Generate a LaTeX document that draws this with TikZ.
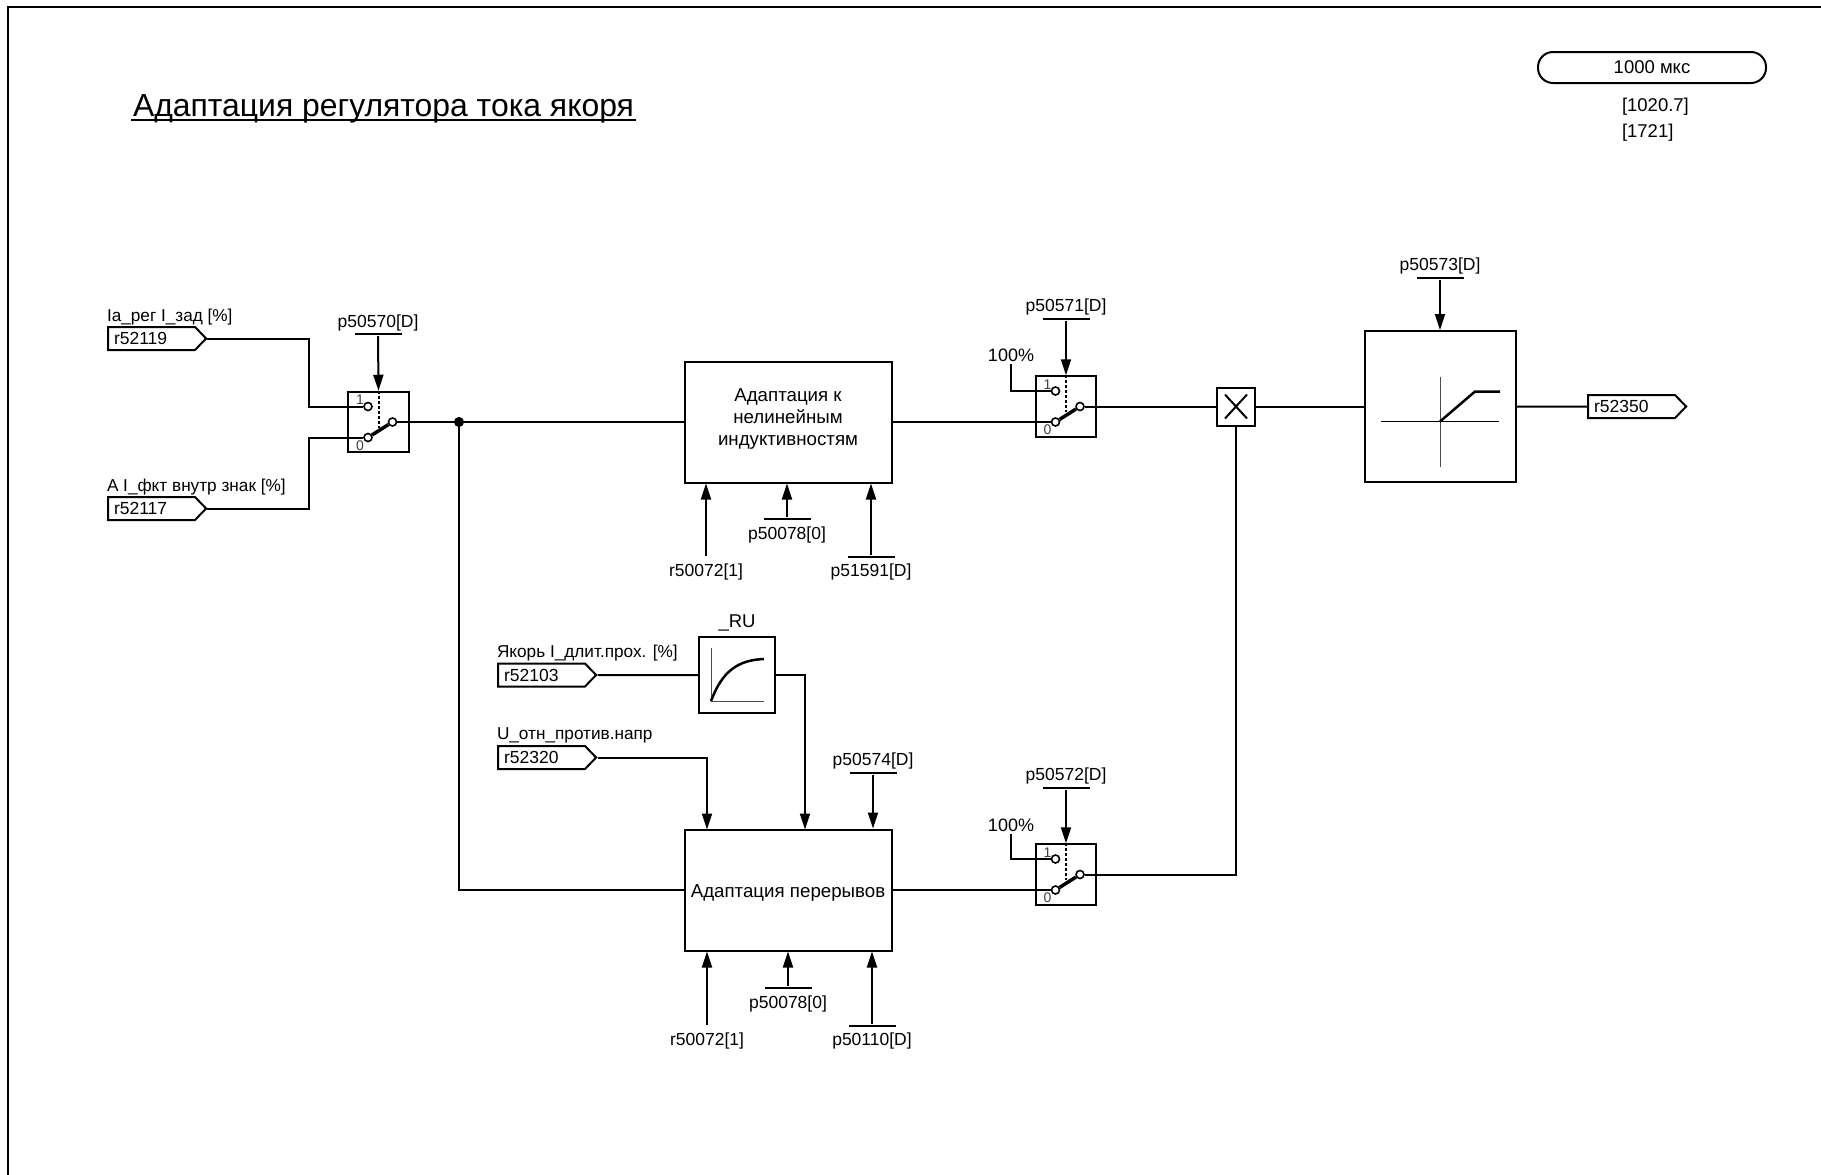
\documentclass[tikz,border=0pt]{standalone}
\usepackage{fontspec}
\setmainfont{Liberation Sans}
\usetikzlibrary{arrows.meta,shapes.symbols}
\newcommand{\switchnode}[3]{%
  \node[swbox] (#1) at (#2,#3) {};
  \node[contact] (#1hi) at ([shift={(-10.5,-15.5)}]#1.center) {};
  \node[contact] (#1lo) at ([shift={(-10.5,15.5)}]#1.center) {};
  \node[contact] (#1out) at ([shift={(14,0)}]#1.center) {};
  \node[digit] (#1one) at ([shift={(-18.5,-22)}]#1.center) {1};
  \node[digit] (#1zero) at ([shift={(-18.5,23.5)}]#1.center) {0};
  \draw[line width=3.5pt] (#1lo) -- (#1out);
  \draw[densely dashed] (#1.north) -- ++(0,37);
}
\tikzset{
  every node/.style={font=\fontsize{17.5}{22}\selectfont, inner sep=1pt},
  block/.style={draw, minimum width=207pt, minimum height=121pt, align=center, font=\fontsize{18.7}{22}\selectfont},
  swbox/.style={draw, minimum size=60.5pt},
  contact/.style={draw, circle, fill=white, inner sep=0pt, minimum size=8pt, line width=1.6pt},
  digit/.style={font=\fontsize{14}{14}\selectfont, text=black!75},
  flag/.style={draw, signal, signal to=east, signal pointer angle=92, minimum height=23pt,
    text width=75pt, inner xsep=6pt, inner ysep=0pt, align=left},
  parbar/.style={fill=black, minimum width=47pt, minimum height=2pt, inner sep=0pt},
  wlabel/.style={anchor=west, font=\fontsize{17.2}{22}\selectfont},
  axis/.style={line width=1pt, black!70},
}
\begin{document}
\begin{tikzpicture}[x=1pt, y=-1pt, >={Triangle[length=16pt,width=10pt]}, line width=2pt]
\useasboundingbox (0,0) rectangle (1821,1175);
\draw (1821,7) -- (8,7) -- (8,1175);

\node[anchor=base west, font=\fontsize{31.9}{32}\selectfont] (title) at (131,116) {Адаптация регулятора тока якоря};
\draw ([yshift=-3.5pt]title.base west) -- ([yshift=-3.5pt]title.base east);
\node[draw, rounded corners=15pt, minimum width=228pt, minimum height=31pt, font=\fontsize{18.5}{18}\selectfont] (cycle) at (1652,67.5) {1000 мкс};
\node[wlabel, font=\fontsize{18.5}{18}\selectfont] (ref1) at (1620,107) {[1020.7]};
\node[wlabel, font=\fontsize{18.5}{18}\selectfont] (ref2) at (1620,133) {[1721]};

\node[wlabel] (ia) at (105,317) {Ia\_рег I\_зад [\%]};
\node[flag, anchor=west] (r119) at (107,338.5) {r52119};
\node[wlabel] (ai) at (105,487) {A I\_фкт внутр знак [\%]};
\node[flag, anchor=west] (r117) at (107,508.5) {r52117};

\switchnode{sw1}{378.5}{422}
\node (p70) at (378,322.5) {p50570[D]};
\node[parbar] (b70) at (378,334) {};
\draw[->] (b70) -- (sw1.north);
\draw (r119.east) -- ++(102,0) |- (sw1hi);
\draw (r117.east) -- ++(102,0) |- (sw1lo);

\node[draw, circle, fill=black, inner sep=0pt, minimum size=8pt] (jn) at (459,422) {};
\node[block, text depth=9pt] (blk1) at (788,422) {Адаптация к\\нелинейным\\индуктивностям};
\draw (sw1out) -- (blk1.west);

\node (r72a) at (706,572) {r50072[1]};
\node[parbar] (b78a) at (787,519) {};
\node (p78a) at (787,534.5) {p50078[0]};
\node[parbar] (b91) at (871,557) {};
\node (p91) at (871,572) {p51591[D]};
\draw[->] ([yshift=6pt]r72a.north) -- (r72a |- blk1.south);
\draw[->] (b78a) -- (b78a |- blk1.south);
\draw[->] (b91) -- (b91 |- blk1.south);

\switchnode{sw2}{1066}{406.5}
\node (pc1) at (1011,355) {\fontsize{18}{18}\selectfont 100\%};
\node (p71) at (1066,306.5) {p50571[D]};
\node[parbar] (b71) at (1066,319) {};
\draw[->] (b71) -- (sw2.north);
\draw ([yshift=-1pt]pc1.south) |- (sw2hi);
\draw (blk1.east) -- (sw2lo);

\node[draw, minimum size=38pt] (mul) at (1236,406.5) {};
\draw ([shift={(-11,-12)}]mul.center) -- ([shift={(11,12)}]mul.center);
\draw ([shift={(-11,12)}]mul.center) -- ([shift={(11,-12)}]mul.center);
\draw (sw2out) -- (mul);

\node[draw, minimum width=151pt, minimum height=151pt] (lim) at (1440,406.5) {};
\begin{scope}[shift={(lim.center)}]
\draw[axis] (0,-30) -- (0,60);
\draw[line width=1pt] (-59,15) -- (59,15);
\draw[line width=2.5pt] (0,15) -- (35,-15) -- (60,-15);
\end{scope}
\node (p73) at (1440,265.5) {p50573[D]};
\node[parbar] (b73) at (1440,278) {};
\draw[->] (b73) -- (lim.north);
\draw (mul) -- (lim);

\node[flag, anchor=west] (r350) at (1587,406.5) {r52350};
\draw (lim) -- (r350);

\node[font=\fontsize{18.5}{18}\selectfont] (ru) at (737,622.5) {\_RU};
\node[draw, minimum size=76pt] (pt1) at (737,675) {};
\begin{scope}[shift={(pt1.center)}]
\draw[axis] (-26,-27) -- (-26,26) -- (27,26);
\draw[line width=2.5pt] (-26,26) .. controls (-15,-3) and (0,-15) .. (27,-16);
\end{scope}
\node[wlabel] (ya) at (495,653.5) {Якорь I\_длит.прох. [\%]};
\node[flag, anchor=west] (r103) at (497,675) {r52103};
\draw (r103) -- (pt1);
\node[wlabel] (u) at (495,735.5) {U\_отн\_против.напр};
\node[flag, anchor=west] (r320) at (497,757.5) {r52320};

\node[block, text height=18pt] (blk2) at (788,890) {Адаптация перерывов};
\coordinate (in1) at (707,829.5);
\coordinate (in2) at (805,829.5);
\draw[->] (r320.east) -| (in1);
\draw[->] (pt1.east) -| (in2);
\node (p74) at (873,760.5) {p50574[D]};
\node[parbar] (b74) at (873,773) {};
\draw[->] (b74) -- (b74 |- blk2.north);
\draw (jn) -- (jn |- blk2.west) -- (blk2.west);

\node (r72b) at (707,1041) {r50072[1]};
\node[parbar] (b78b) at (788,988) {};
\node (p78b) at (788,1003.5) {p50078[0]};
\node[parbar] (b10) at (872,1026) {};
\node (p10) at (872,1041) {p50110[D]};
\draw[->] ([yshift=6pt]r72b.north) -- (r72b |- blk2.south);
\draw[->] (b78b) -- (b78b |- blk2.south);
\draw[->] (b10) -- (b10 |- blk2.south);

\switchnode{sw3}{1066}{874.5}
\node (pc2) at (1011,825) {\fontsize{18}{18}\selectfont 100\%};
\node (p72) at (1066,775.5) {p50572[D]};
\node[parbar] (b72) at (1066,788) {};
\draw[->] (b72) -- (sw3.north);
\draw ([yshift=-1pt]pc2.south) |- (sw3hi);
\draw (blk2.east) -- (sw3lo);
\draw (sw3out) -| (mul.south);
\end{tikzpicture}
\end{document}
